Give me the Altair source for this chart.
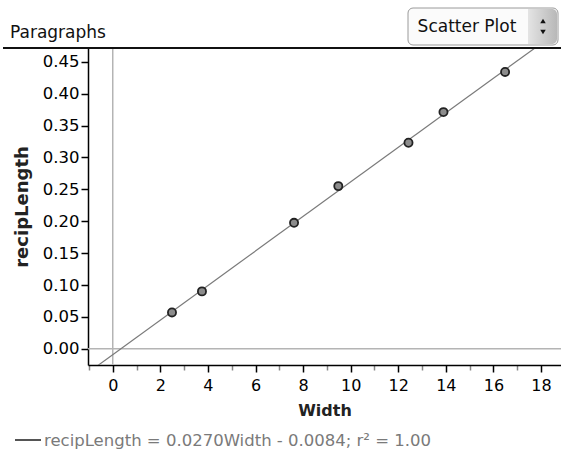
import altair as alt
import pandas as pd

# Data
width_vals = [2.49, 3.75, 7.62, 9.48, 12.43, 13.90, 16.49]
recip_vals = [0.057, 0.090, 0.1975, 0.255, 0.323, 0.371, 0.434]
x_ticks = list(range(-1, 19))
y_ticks = [0.0, 0.05, 0.10, 0.15, 0.20, 0.25, 0.30, 0.35, 0.40, 0.45]
x_domain = [-1.04, 18.84]
y_domain = [-0.0254, 0.4715]
legend_text = "recipLength = 0.0270Width - 0.0084; r\u00b2 = 1.00"

df = pd.DataFrame({"Width": width_vals, "recipLength": recip_vals})

FONT = "DejaVu Sans"
W, H = 473, 317

xscale = alt.Scale(domain=x_domain, nice=False, zero=False)
yscale = alt.Scale(domain=y_domain, nice=False, zero=False)

xaxis = alt.Axis(
    values=x_ticks,
    labelExpr="(datum.value % 2 == 0 && datum.value >= 0) ? datum.label : ''",
    grid=False, domainColor="black", domainWidth=1.5,
    tickColor={"condition": {"test": "datum.value % 2 == 0", "value": "#000000"}, "value": "#888888"},
    tickSize={"condition": {"test": "datum.value % 2 == 0", "value": 7}, "value": 5},
    tickWidth=1.5,
    labelFont=FONT, labelFontSize=16, labelColor="black", labelPadding=5,
    title="Width", titleFont=FONT, titleFontSize=16, titleFontWeight="bold",
    titleColor="#222222", titlePadding=9, labelFlush=False,
)
yaxis = alt.Axis(
    values=y_ticks, format=".2f",
    grid=False, domainColor="black", domainWidth=1.5,
    tickColor="black", tickSize=7, tickWidth=1.5,
    labelFont=FONT, labelFontSize=16.5, labelColor="black", labelPadding=2,
    title="recipLength", titleFont=FONT, titleFontSize=18, titleFontWeight="bold",
    titleColor="#222222", titlePadding=11, labelFlush=False,
)

base = alt.Chart(df)

vgrid = alt.Chart(pd.DataFrame({"x": [0]})).mark_rule(color="#b4b4b4", strokeWidth=1.5).encode(
    x=alt.X("x:Q", scale=xscale, axis=xaxis)
)
hgrid = alt.Chart(pd.DataFrame({"y": [0]})).mark_rule(color="#b4b4b4", strokeWidth=1.5).encode(
    y=alt.Y("y:Q", scale=yscale, axis=yaxis)
)

fit = base.transform_regression(
    "Width", "recipLength", extent=x_domain
).mark_line(color="#7a7a7a", strokeWidth=1.2, clip=True).encode(
    x=alt.X("Width:Q", scale=xscale, axis=xaxis),
    y=alt.Y("recipLength:Q", scale=yscale, axis=yaxis),
)

pts = base.mark_point(
    shape="circle", filled=True, size=66, fill="#8c8c8c", stroke="#222222",
    strokeWidth=1.8, opacity=1,
).encode(
    x=alt.X("Width:Q", scale=xscale, axis=xaxis),
    y=alt.Y("recipLength:Q", scale=yscale, axis=yaxis),
)

# top frame line
topline = alt.Chart(pd.DataFrame({"a": [0]})).mark_rule(color="#111111", strokeWidth=2).encode(
    x=alt.value(-85), x2=alt.value(W), y=alt.value(0)
)

title_txt = alt.Chart(pd.DataFrame({"t": ["Paragraphs"]})).mark_text(
    font=FONT, fontSize=17, align="left", baseline="alphabetic", color="#111111"
).encode(text="t:N", x=alt.value(-78), y=alt.value(-10))

# "Scatter Plot" selector
box = alt.Chart(pd.DataFrame({"a": [0]})).mark_rect(
    fill="#fbfbfb", stroke="#9a9a9a", strokeWidth=1, cornerRadius=5
).encode(x=alt.value(320), x2=alt.value(470), y=alt.value(-40), y2=alt.value(-3))
spin = alt.Chart(pd.DataFrame({"a": [0]})).mark_rect(
    fill=alt.LinearGradient(gradient="linear", x1=0, x2=1, y1=0, y2=0,
                            stops=[alt.GradientStop(color="#e4e4e4", offset=0),
                                   alt.GradientStop(color="#b8b8b8", offset=1)]),
    cornerRadiusTopRight=5, cornerRadiusBottomRight=5,
).encode(x=alt.value(440), x2=alt.value(469), y=alt.value(-39), y2=alt.value(-4))
up = alt.Chart(pd.DataFrame({"a": [0]})).mark_point(
    shape="triangle-up", filled=True, size=30, color="#111111", opacity=1
).encode(x=alt.value(455), y=alt.value(-27))
down = alt.Chart(pd.DataFrame({"a": [0]})).mark_point(
    shape="triangle-down", filled=True, size=30, color="#111111", opacity=1
).encode(x=alt.value(455), y=alt.value(-16))
sel_txt = alt.Chart(pd.DataFrame({"t": ["Scatter Plot"]})).mark_text(
    font=FONT, fontSize=17, align="center", baseline="middle", color="#111111"
).encode(text="t:N", x=alt.value(379), y=alt.value(-21))

# legend at the bottom
leg_line = alt.Chart(pd.DataFrame({"a": [0]})).mark_rule(color="#555555", strokeWidth=2).encode(
    x=alt.value(-73), x2=alt.value(-47), y=alt.value(392)
)
leg_txt = alt.Chart(pd.DataFrame({"t": [legend_text]})).mark_text(
    font=FONT, fontSize=16.5, align="left", baseline="middle", color="#7a7a7a"
).encode(text="t:N", x=alt.value(-44), y=alt.value(393))

chart = alt.layer(
    vgrid, hgrid, fit, pts, topline, title_txt, box, spin, up, down, sel_txt, leg_line, leg_txt
).properties(
    width=W, height=H,
    autosize=alt.AutoSizeParams(type="none"),
    padding={"left": 88, "top": 48, "right": 0, "bottom": 94},
    background="white",
).configure_view(stroke=None, clip=False)

chart.save("out.html", embed_options={"renderer": "svg", "actions": False})
